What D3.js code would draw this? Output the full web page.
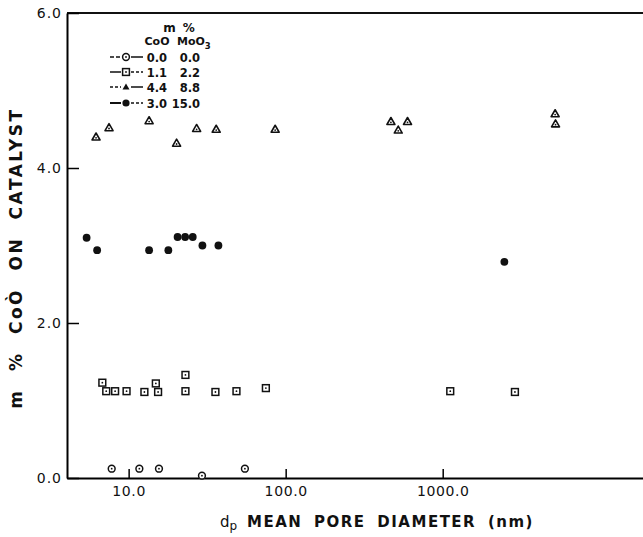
<!DOCTYPE html>
<html lang="en">
  <head>
    <meta charset="UTF-8" />
    <title>CoO on catalyst vs mean pore diameter</title>
    <script src="https://d3js.org/d3.v7.min.js"></script>
    <style>
      body { margin: 0; background: #fff; }
      .chart text { font-family: "DejaVu Sans", sans-serif; fill: #111; }
    </style>
  </head>
  <body>
    <div class="chart"></div>
  </body>

  <script>
    // legend table
    var legendCoO = ["0.0", "1.1", "4.4", "3.0"];
    var legendMoO3 = ["0.0", "2.2", "8.8", "15.0"];

    // 0.0 CoO / 0.0 MoO3 (open circle)
    var s0x = [7.8, 11.7, 15.6, 29.3, 55.0];
    var s0y = [0.12, 0.12, 0.12, 0.03, 0.12];
    // 1.1 CoO / 2.2 MoO3 (open square)
    var s1x = [6.8, 7.2, 8.2, 9.7, 12.6, 14.9, 15.4, 23.0, 23.0, 35.7, 48.6, 74.8, 1117, 2884];
    var s1y = [1.23, 1.12, 1.12, 1.12, 1.11, 1.22, 1.11, 1.33, 1.12, 1.11, 1.12, 1.16, 1.12, 1.11];
    // 4.4 CoO / 8.8 MoO3 (open triangle)
    var s2x = [6.2, 7.5, 13.5, 20.2, 27.1, 36.1, 85.7, 468, 521, 597, 5200, 5230];
    var s2y = [4.40, 4.52, 4.61, 4.32, 4.51, 4.50, 4.50, 4.60, 4.49, 4.60, 4.70, 4.57];
    // 3.0 CoO / 15.0 MoO3 (filled circle)
    var s3x = [5.4, 6.3, 13.5, 17.9, 20.5, 22.9, 25.6, 29.5, 37.3, 2470];
    var s3y = [3.10, 2.94, 2.94, 2.94, 3.11, 3.11, 3.11, 3.00, 3.00, 2.79];

    var xTicks = [10, 100, 1000];
    var yTicks = [0, 2, 4, 6];

    var width = 643, height = 537;
    var plotL = 67, plotT = 13, plotB = 478, plotR = 647;

    var svg = d3.select(".chart").append("svg")
      .attr("width", width).attr("height", height);

    var x = d3.scaleLog().domain([4.05, 20000]).range([plotL, plotR]);
    var y = d3.scaleLinear().domain([0, 6]).range([plotB, plotT]);

    // frame top line
    svg.append("line")
      .attr("x1", plotL).attr("x2", plotR)
      .attr("y1", plotT).attr("y2", plotT)
      .attr("stroke", "#111").attr("stroke-width", 2);

    var xAxis = d3.axisBottom(x).tickValues(xTicks)
      .tickFormat(d3.format(".1f")).tickSizeInner(-9).tickSizeOuter(0).tickPadding(8);
    var gx = svg.append("g").attr("transform", "translate(0," + plotB + ")").call(xAxis);
    gx.select(".domain").attr("stroke-width", 2);
    gx.selectAll(".tick line").attr("stroke-width", 1.5);
    gx.selectAll("text").attr("font-size", 14).attr("letter-spacing", 0.6).attr("fill", "#111");

    var yAxis = d3.axisLeft(y).tickValues(yTicks)
      .tickFormat(d3.format(".1f")).tickSizeInner(-12).tickSizeOuter(0).tickPadding(5);
    var gy = svg.append("g").attr("transform", "translate(" + plotL + ",0)").call(yAxis);
    gy.select(".domain").attr("stroke-width", 2);
    gy.selectAll(".tick line").attr("stroke-width", 1.5);
    gy.selectAll("text").attr("font-size", 14).attr("letter-spacing", 1).attr("fill", "#111");

    var ink = "#111";

    function openCircle(g, cx, cy) {
      g.append("circle").attr("cx", cx).attr("cy", cy).attr("r", 3.4)
        .attr("fill", "#fff").attr("stroke", ink).attr("stroke-width", 1.5);
      g.append("circle").attr("cx", cx).attr("cy", cy).attr("r", 0.9).attr("fill", ink);
    }
    function openSquare(g, cx, cy) {
      g.append("rect").attr("x", cx - 3.4).attr("y", cy - 3.4).attr("width", 6.8).attr("height", 6.8)
        .attr("fill", "#fff").attr("stroke", ink).attr("stroke-width", 1.5);
      g.append("circle").attr("cx", cx).attr("cy", cy).attr("r", 0.9).attr("fill", ink);
    }
    function openTriangle(g, cx, cy) {
      g.append("path")
        .attr("d", "M" + cx + "," + (cy - 4) + "L" + (cx + 4) + "," + (cy + 3) + "L" + (cx - 4) + "," + (cy + 3) + "Z")
        .attr("fill", "#fff").attr("stroke", ink).attr("stroke-width", 1.6).attr("stroke-linejoin", "round");
      g.append("circle").attr("cx", cx).attr("cy", cy + 0.8).attr("r", 0.9).attr("fill", ink);
    }
    function filledCircle(g, cx, cy) {
      g.append("circle").attr("cx", cx).attr("cy", cy).attr("r", 3.9).attr("fill", ink);
    }

    var markers = [openCircle, openSquare, openTriangle, filledCircle];
    var series = [[s0x, s0y], [s1x, s1y], [s2x, s2y], [s3x, s3y]];

    var pts = svg.append("g");
    series.forEach(function (s, k) {
      s[0].forEach(function (v, i) {
        markers[k](pts, x(v), y(s[1][i]));
      });
    });

    // legend
    var lg = svg.append("g").attr("font-weight", "bold");
    lg.append("text").attr("x", 179).attr("y", 32).attr("text-anchor", "middle")
      .attr("font-size", 12).attr("word-spacing", 3).text("m %");
    lg.append("text").attr("x", 157).attr("y", 45).attr("text-anchor", "middle")
      .attr("font-size", 11).text("CoO");
    var mo = lg.append("text").attr("x", 177).attr("y", 45).attr("font-size", 11);
    mo.append("tspan").text("MoO");
    mo.append("tspan").attr("dy", 4).attr("font-size", 8.5).text("3");

    var rowY = [57, 72, 87, 103];
    var dashL = ["4,2", "10,0", "3,2", "10,0"];
    var dashR = ["10,0", "3,2", "10,0", "3,2"];
    legendCoO.forEach(function (c, i) {
      var yy = rowY[i];
      lg.append("line").attr("x1", 110).attr("x2", 121).attr("y1", yy).attr("y2", yy)
        .attr("stroke", ink).attr("stroke-width", i === 3 ? 2.2 : 1.4).attr("stroke-dasharray", dashL[i]);
      lg.append("line").attr("x1", 131).attr("x2", 143).attr("y1", yy).attr("y2", yy)
        .attr("stroke", ink).attr("stroke-width", 1.4).attr("stroke-dasharray", dashR[i]);
      if (i === 2) {
        lg.append("path").attr("d", "M126," + (yy - 3.5) + "L129.5," + (yy + 2.5) + "L122.5," + (yy + 2.5) + "Z").attr("fill", ink);
      } else if (i === 3) {
        lg.append("circle").attr("cx", 126).attr("cy", yy).attr("r", 3.6).attr("fill", ink);
      } else {
        markers[i](lg, 126, yy);
      }
      lg.append("text").attr("x", 167).attr("y", yy + 5).attr("text-anchor", "end")
        .attr("font-size", 11.5).text(c);
      lg.append("text").attr("x", 200).attr("y", yy + 5).attr("text-anchor", "end")
        .attr("font-size", 11.5).text(legendMoO3[i]);
    });

    // axis titles
    svg.append("text")
      .attr("transform", "translate(22,258) rotate(-90)")
      .attr("text-anchor", "middle").attr("font-size", 17).attr("font-weight", "bold")
      .attr("letter-spacing", 2.5).attr("word-spacing", 9)
      .text("m % CoÒ ON CATALYST");

    var xt = svg.append("text").attr("x", 220).attr("y", 527).attr("font-size", 15);
    xt.append("tspan").text("d");
    xt.append("tspan").attr("dy", 3).attr("font-size", 12).text("p");
    svg.append("text").attr("x", 247).attr("y", 527).attr("font-size", 15).attr("font-weight", "bold")
      .attr("letter-spacing", 1.5).attr("word-spacing", 5)
      .text("MEAN PORE DIAMETER (nm)");
  </script>
</html>
